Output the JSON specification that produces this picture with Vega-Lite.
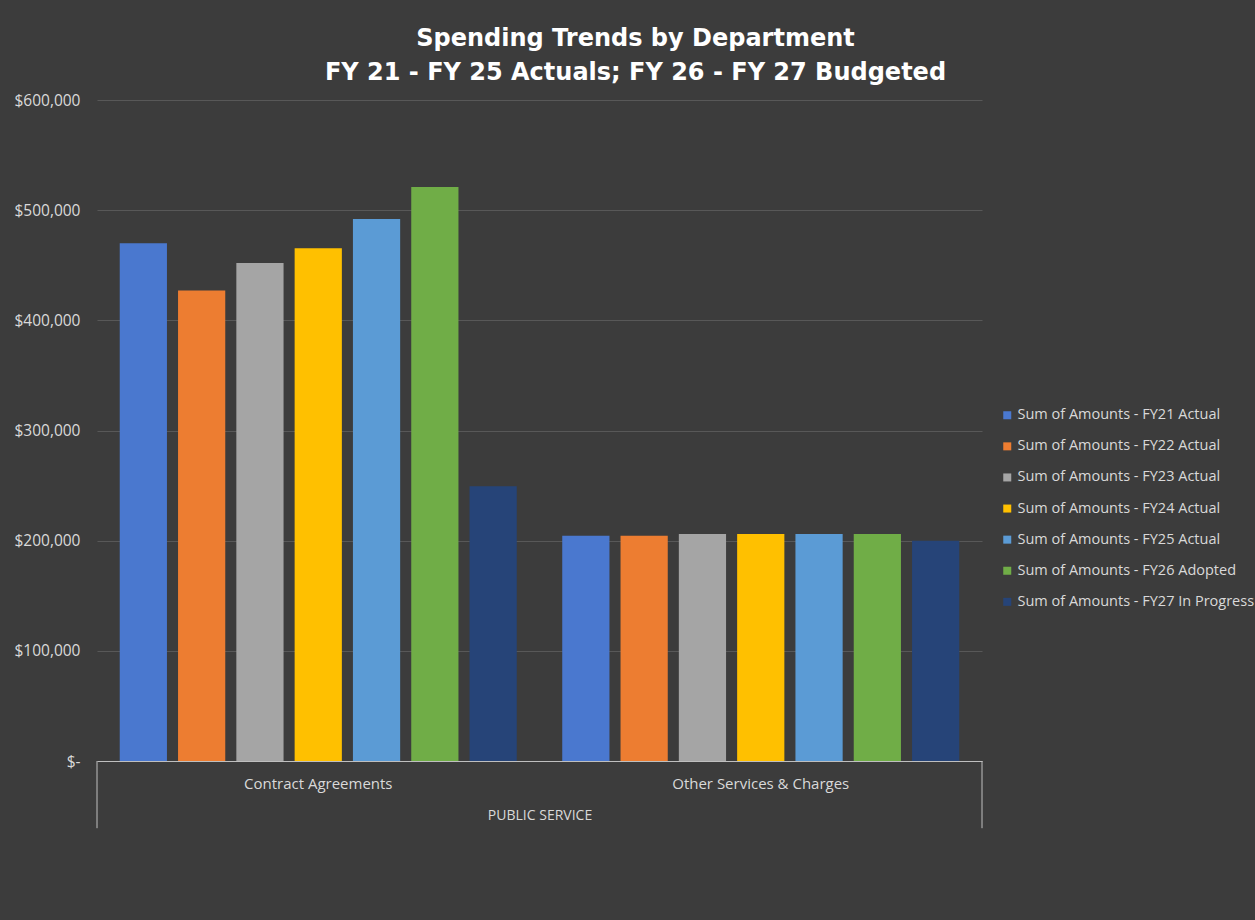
{
  "$schema": "https://vega.github.io/schema/vega-lite/v6.json",
  "autosize": {"type": "none"},
  "width": 885,
  "height": 661,
  "padding": {"left": 97, "top": 100, "right": 273, "bottom": 159},
  "background": "#3c3c3c",
  "config": {
    "view": {"stroke": null},
    "font": "Open Sans",
    "axisX": {
      "titleFontWeight": "normal",
      "titleFontSize": 14,
      "titleColor": "#d9d9d9",
      "titlePadding": 17,
      "labelAngle": 0,
      "labelFontSize": 15,
      "labelColor": "#d9d9d9",
      "labelPadding": 15,
      "ticks": false,
      "grid": false,
      "domainColor": "#bfbfbf",
      "domainWidth": 1
    },
    "axisY": {
      "domain": false,
      "ticks": false,
      "grid": true,
      "gridColor": "#585858",
      "labelColor": "#d9d9d9",
      "labelFontSize": 15.5,
      "labelPadding": 17
    }
  },
  "title": {
    "text": ["Spending Trends by Department", "FY 21 - FY 25 Actuals; FY 26 - FY 27 Budgeted"],
    "color": "#ffffff",
    "font": "DejaVu Sans",
    "fontSize": 24,
    "fontWeight": "bold",
    "lineHeight": 34,
    "anchor": "middle",
    "frame": "group",
    "dx": 96,
    "offset": 8
  },
  "data": {
    "values": [
      {"category": "Contract Agreements", "series": "Sum of Amounts - FY21 Actual", "amount": 470000},
      {"category": "Contract Agreements", "series": "Sum of Amounts - FY22 Actual", "amount": 427000},
      {"category": "Contract Agreements", "series": "Sum of Amounts - FY23 Actual", "amount": 452000},
      {"category": "Contract Agreements", "series": "Sum of Amounts - FY24 Actual", "amount": 465500},
      {"category": "Contract Agreements", "series": "Sum of Amounts - FY25 Actual", "amount": 492000},
      {"category": "Contract Agreements", "series": "Sum of Amounts - FY26 Adopted", "amount": 521000},
      {"category": "Contract Agreements", "series": "Sum of Amounts - FY27 In Progress", "amount": 249500},
      {"category": "Other Services & Charges", "series": "Sum of Amounts - FY21 Actual", "amount": 204500},
      {"category": "Other Services & Charges", "series": "Sum of Amounts - FY22 Actual", "amount": 204500},
      {"category": "Other Services & Charges", "series": "Sum of Amounts - FY23 Actual", "amount": 206000},
      {"category": "Other Services & Charges", "series": "Sum of Amounts - FY24 Actual", "amount": 206000},
      {"category": "Other Services & Charges", "series": "Sum of Amounts - FY25 Actual", "amount": 206000},
      {"category": "Other Services & Charges", "series": "Sum of Amounts - FY26 Adopted", "amount": 206000},
      {"category": "Other Services & Charges", "series": "Sum of Amounts - FY27 In Progress", "amount": 200000}
    ]
  },
  "layer": [
    {
      "mark": {"type": "bar"},
      "encoding": {
        "x": {
          "field": "category",
          "type": "nominal",
          "scale": {"paddingInner": 0, "paddingOuter": 0},
          "axis": {"title": "PUBLIC SERVICE"}
        },
        "xOffset": {
          "field": "series",
          "type": "nominal",
          "scale": {"paddingInner": 0.19, "paddingOuter": 0.39}
        },
        "y": {
          "field": "amount",
          "type": "quantitative",
          "scale": {"domain": [0, 600000], "nice": false},
          "axis": {
            "title": null,
            "values": [0, 100000, 200000, 300000, 400000, 500000, 600000],
            "labelExpr": "datum.value == 0 ? '$-' : '$' + format(datum.value, ',')"
          }
        },
        "color": {
          "field": "series",
          "type": "nominal",
          "scale": {
            "range": ["#4a78cf", "#ed7d31", "#a5a5a5", "#ffc000", "#5b9bd5", "#70ad47", "#264478"]
          },
          "legend": {
            "title": null,
            "orient": "none",
            "legendX": 903,
            "legendY": 308,
            "symbolType": "square",
            "symbolSize": 64,
            "symbolStrokeWidth": 0,
            "labelFontSize": 14.5,
            "labelColor": "#d9d9d9",
            "labelLimit": 300,
            "rowPadding": 16.1,
            "labelOffset": 3
          }
        }
      }
    },
    {
      "transform": [{"filter": "datum.category == 'Contract Agreements' && datum.series == 'Sum of Amounts - FY21 Actual'"}],
      "mark": {"type": "rule", "color": "#bfbfbf", "strokeWidth": 1},
      "encoding": {
        "x": {"field": "category", "type": "nominal", "bandPosition": 0, "axis": {"title": "PUBLIC SERVICE"}},
        "y": {"datum": 0, "type": "quantitative", "axis": {"title": null}},
        "y2": {"datum": -61000}
      }
    },
    {
      "transform": [{"filter": "datum.category == 'Other Services & Charges' && datum.series == 'Sum of Amounts - FY21 Actual'"}],
      "mark": {"type": "rule", "color": "#bfbfbf", "strokeWidth": 1},
      "encoding": {
        "x": {"field": "category", "type": "nominal", "bandPosition": 1, "axis": {"title": "PUBLIC SERVICE"}},
        "y": {"datum": 0, "type": "quantitative", "axis": {"title": null}},
        "y2": {"datum": -61000}
      }
    }
  ]
}
